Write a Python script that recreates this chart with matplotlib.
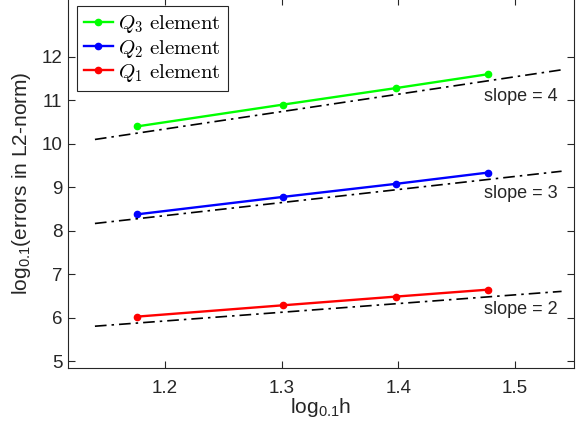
import matplotlib
matplotlib.use("Agg")
import matplotlib.pyplot as plt
from matplotlib.font_manager import FontProperties


# log_0.1 h for h = 1/15, 1/20, 1/25, 1/30
log_h = [1.1761, 1.3010, 1.3979, 1.4771]

q1_errors = [6.03, 6.29, 6.49, 6.65]
q2_errors = [8.38, 8.78, 9.08, 9.34]
q3_errors = [10.40, 10.90, 11.28, 11.60]

series_labels = [r"$Q_3\ \mathrm{element}$", r"$Q_2\ \mathrm{element}$", r"$Q_1\ \mathrm{element}$"]
series_colors = ["#00ff00", "#0000ff", "#ff0000"]

# reference slope lines
ref_x = [1.14, 1.54]
ref_slopes = [4, 3, 2]
ref_start = [10.10, 8.17, 5.81]
ref_text_y = [11.08, 8.85, 6.19]

x_ticks = [1.2, 1.3, 1.4, 1.5]
y_ticks = [5, 6, 7, 8, 9, 10, 11, 12]

plt.rcParams["font.family"] = ["Liberation Sans", "DejaVu Sans"]
plt.rcParams["mathtext.fontset"] = "custom"
plt.rcParams["mathtext.rm"] = "Liberation Sans"
plt.rcParams["mathtext.it"] = "Liberation Sans:italic"

DARK = "#262626"

fig = plt.figure(figsize=(5.78, 4.34), dpi=100)
ax = fig.add_axes([0.1176, 0.1521, 0.8754, 0.8525])

series = [q3_errors, q2_errors, q1_errors]
for vals, label, color in zip(series, series_labels, series_colors):
    ax.plot(log_h, vals, color=color, lw=1.7, marker="o", markersize=4.5, label=label)

for slope, y0, ty in zip(ref_slopes, ref_start, ref_text_y):
    y1 = y0 + slope * (ref_x[1] - ref_x[0])
    ax.plot(ref_x, [y0, y1], color="black", lw=1.2, linestyle="-.", dashes=(7, 3, 1.5, 3))
    ax.text(1.5363, ty, f"slope = {slope}", ha="right", va="center", fontsize=13, color=DARK)

ax.set_xlim(1.1169, 1.5506)
ax.set_ylim(4.85, 13.35)
ax.set_xticks(x_ticks)
ax.set_xticklabels([str(t) for t in x_ticks])
ax.set_yticks(y_ticks)

ax.tick_params(direction="in", top=True, right=True, length=5, width=0.8,
               colors=DARK, labelsize=13.5)
ax.tick_params(axis="x", pad=9)
ax.tick_params(axis="y", pad=4)
for spine in ax.spines.values():
    spine.set_color(DARK)
    spine.set_linewidth(0.8)

ax.set_xlabel(r"log$_{0.1}$h", fontsize=15, color=DARK, labelpad=-1)
ax.set_ylabel(r"log$_{0.1}$(errors in L2-norm)", fontsize=15, color=DARK, labelpad=6)

leg_font = FontProperties(size=15, math_fontfamily="cm")
leg = ax.legend(loc="upper left", bbox_to_anchor=(0.017, 0.978), prop=leg_font,
                handlelength=1.4, handletextpad=0.25, labelspacing=0.1,
                borderpad=0.35, borderaxespad=0.0, fancybox=False, framealpha=1)
leg.get_frame().set_edgecolor(DARK)
leg.get_frame().set_linewidth(0.8)

fig.savefig("out.png", dpi=100)
